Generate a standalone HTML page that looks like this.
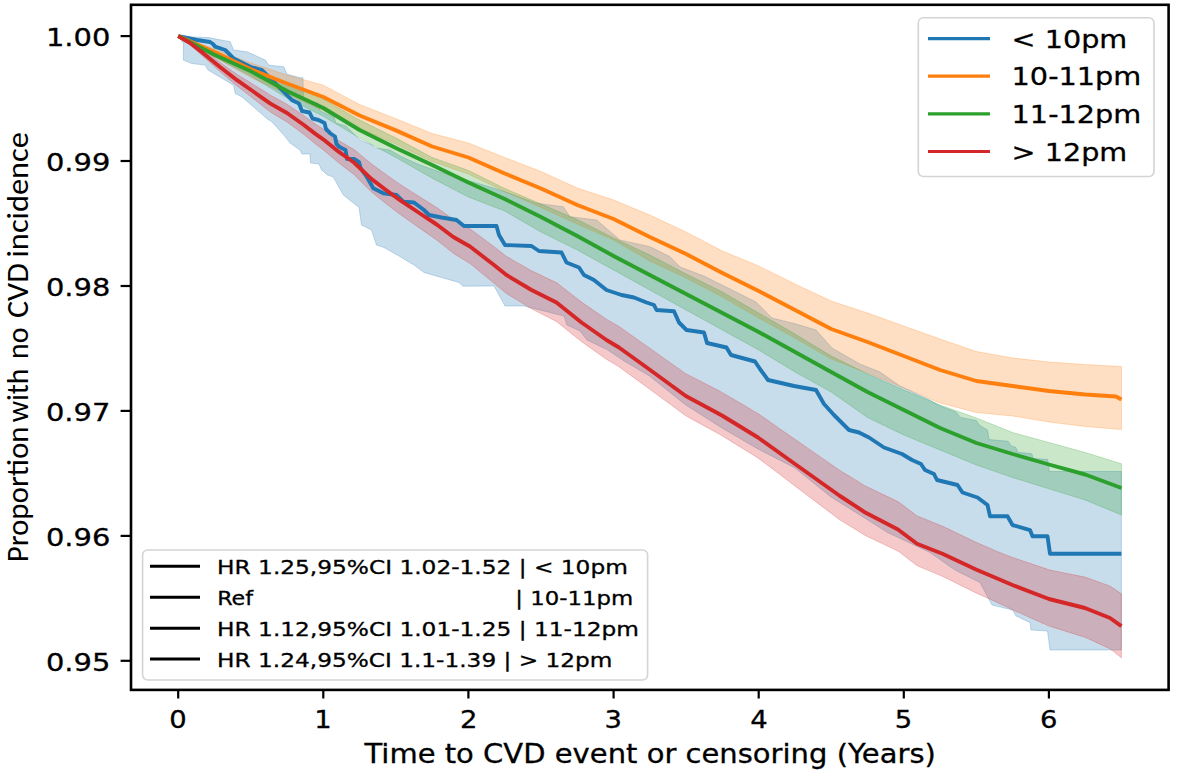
<!DOCTYPE html><html><head><meta charset="utf-8"><style>html,body{margin:0;padding:0;background:#fff;overflow:hidden}svg{display:block}text{font-family:"DejaVu Sans","Liberation Sans",sans-serif;stroke:#000;stroke-width:0.3px;paint-order:stroke}</style></head><body>
<svg width="1200" height="777" viewBox="0 0 1200 777">
<rect width="1200" height="777" fill="#fff"/>
<polygon points="178.2,36.1 181.7,36.7 208.5,37.5 230.2,41.7 233.6,50.0 247.0,51.8 265.4,60.1 268.7,65.1 283.8,66.8 287.1,74.3 300.5,77.7 303.0,77.7 303.5,99.0 318.0,103.0 320.0,111.0 334.0,117.0 336.0,123.0 346.0,126.0 360.0,140.0 372.0,145.0 375.0,148.0 390.0,150.0 400.0,156.0 420.0,165.0 440.0,172.0 470.0,181.0 500.0,190.0 536.7,203.3 563.3,206.7 570.0,216.7 596.7,220.0 620.0,240.0 650.0,246.7 670.0,256.7 680.0,267.0 704.0,276.0 728.0,288.0 756.0,302.0 772.0,318.0 796.0,324.0 816.0,330.0 832.0,348.0 860.0,364.0 880.0,372.0 900.0,386.0 930.0,400.0 940.0,406.0 955.8,412.0 960.6,417.4 976.4,420.6 979.6,425.3 987.5,430.1 989.1,439.6 1008.1,441.2 1011.2,445.9 1016.0,447.5 1017.6,452.2 1031.8,453.8 1033.4,458.6 1047.7,459.4 1049.2,471.5 1121.4,471.5 1121.4,650.0 1050.0,650.0 1047.5,631.0 1031.0,630.0 1030.0,622.5 1016.0,616.0 1012.5,610.0 992.0,605.0 980.0,582.5 955.0,570.0 930.0,552.5 887.5,532.5 860.0,515.0 831.0,497.0 795.0,468.0 758.0,449.0 722.0,428.0 685.8,405.0 649.5,376.0 623.0,360.3 607.0,349.6 587.0,340.0 580.0,331.0 567.0,325.0 564.0,316.0 544.0,311.0 524.0,306.0 505.0,306.0 499.0,295.0 494.0,286.0 462.8,286.2 459.0,282.5 441.5,277.5 424.0,272.5 414.0,265.0 399.0,256.0 384.0,247.5 376.5,245.0 371.5,230.0 361.5,225.0 359.0,207.5 343.3,195.0 333.3,177.0 327.5,175.0 321.6,170.0 319.0,164.0 310.5,163.0 310.0,154.0 302.0,154.0 300.0,150.0 290.0,143.0 285.5,137.1 272.1,122.0 267.0,118.7 242.0,96.9 235.3,93.6 233.6,85.2 208.0,70.0 205.1,65.1 191.7,63.5 183.4,60.1 183.4,43.4 178.2,36.1" fill="#1f77b4" fill-opacity="0.25" stroke="#1f77b4" stroke-opacity="0.25" stroke-width="1.0" stroke-linejoin="round"/>
<polygon points="178.2,36.1 214.5,49.0 250.8,63.0 287.0,75.0 323.3,85.2 359.6,104.5 395.9,118.7 432.2,133.5 468.4,143.0 504.7,157.5 541.0,171.5 577.3,188.0 613.6,200.0 649.8,215.0 686.1,232.0 722.4,251.0 758.7,266.0 795.0,284.0 831.2,301.0 867.5,313.0 903.8,326.0 940.1,339.0 976.4,351.5 1012.6,358.0 1048.9,362.0 1085.2,364.5 1121.5,366.5 1121.5,429.5 1085.2,426.5 1048.9,422.0 1012.6,416.0 976.4,412.5 940.1,403.0 903.8,388.0 867.5,373.0 831.2,359.0 795.0,338.0 758.7,318.0 722.4,297.0 686.1,278.0 649.8,261.0 613.6,240.0 577.3,224.0 541.0,207.5 504.7,191.5 468.4,174.0 432.2,161.5 395.9,144.1 359.6,128.5 323.3,110.8 287.0,94.0 250.8,77.6 214.5,57.0 178.2,36.1" fill="#ff7f0e" fill-opacity="0.25" stroke="#ff7f0e" stroke-opacity="0.25" stroke-width="1.0" stroke-linejoin="round"/>
<polygon points="178.2,36.1 214.5,52.0 250.8,67.0 287.0,84.0 323.3,99.4 359.6,120.0 395.9,138.0 432.2,157.5 468.4,170.4 504.7,188.5 541.0,204.0 577.3,219.5 613.6,238.0 649.8,255.0 686.1,274.0 722.4,292.0 758.7,313.0 795.0,334.0 831.2,356.0 867.5,374.0 903.8,390.0 940.1,405.0 976.4,418.0 1012.6,432.5 1048.9,442.5 1085.2,452.5 1121.5,463.8 1121.5,515.0 1085.2,500.0 1048.9,488.8 1012.6,477.5 976.4,465.0 940.1,450.0 903.8,435.0 867.5,417.5 831.2,392.0 795.0,372.0 758.7,350.0 722.4,330.0 686.1,310.0 649.8,290.0 613.6,270.0 577.3,250.0 541.0,232.0 504.7,211.0 468.4,197.0 432.2,178.2 395.9,157.5 359.6,138.1 323.3,116.2 287.0,98.0 250.8,76.0 214.5,57.0 178.2,36.1" fill="#2ca02c" fill-opacity="0.25" stroke="#2ca02c" stroke-opacity="0.25" stroke-width="1.0" stroke-linejoin="round"/>
<polygon points="178.2,36.1 180.0,36.9 190.0,41.4 192.0,42.7 203.5,50.0 204.0,50.4 216.0,59.4 220.0,62.4 228.0,68.1 237.0,74.4 240.0,76.2 252.0,83.6 254.0,84.9 264.0,91.1 270.4,95.2 276.0,98.2 287.0,104.2 288.0,104.9 300.0,113.1 303.9,115.8 312.0,121.6 315.4,124.1 323.2,129.1 324.0,129.7 336.0,138.7 338.6,140.5 348.0,146.0 354.0,149.4 360.0,154.4 371.0,163.6 372.0,164.3 384.0,173.0 386.3,174.7 396.0,181.5 400.0,184.3 408.0,189.4 420.0,197.0 432.0,204.6 436.7,207.5 444.0,212.8 453.3,219.6 456.0,221.1 468.0,227.7 470.0,228.8 480.0,236.2 492.0,245.2 494.0,246.7 504.0,254.5 506.5,256.4 516.0,261.9 528.0,268.7 531.5,270.8 540.0,274.8 552.0,280.5 556.5,282.6 564.0,288.4 576.0,297.8 581.5,302.1 588.0,306.6 600.0,314.8 606.5,319.2 612.0,322.4 619.0,326.5 624.0,330.0 636.0,338.5 648.0,347.0 649.5,348.0 660.0,355.4 672.0,363.9 684.0,372.4 685.8,373.7 696.0,378.9 708.0,385.1 720.0,391.3 722.0,392.4 732.0,398.2 744.0,405.3 756.0,412.4 758.0,413.5 768.0,420.5 780.0,428.9 792.0,437.3 795.0,439.3 804.0,445.6 816.0,453.9 828.0,462.2 840.0,470.5 852.0,477.8 864.0,485.2 865.7,486.2 876.0,491.1 888.0,496.8 898.0,501.6 900.0,503.0 912.0,512.1 917.0,515.9 924.0,518.7 936.0,523.6 943.0,526.4 948.0,528.8 960.0,534.6 972.0,540.3 976.0,542.3 984.0,545.7 996.0,551.0 1008.0,555.7 1012.5,557.4 1020.0,560.0 1032.0,564.0 1044.0,568.1 1049.0,569.8 1056.0,571.2 1068.0,573.7 1080.0,576.1 1085.0,577.1 1092.0,579.6 1104.0,583.9 1110.0,586.0 1116.0,590.1 1121.4,593.8 1121.4,657.8 1116.0,653.5 1110.0,648.8 1104.0,646.0 1092.0,640.5 1085.0,637.3 1080.0,635.7 1068.0,632.0 1056.0,628.2 1049.0,626.0 1044.0,623.8 1032.0,618.5 1020.0,613.1 1012.5,609.8 1008.0,607.6 996.0,601.9 984.0,596.5 976.0,592.9 972.0,590.9 960.0,585.0 948.0,579.0 943.0,576.6 936.0,573.6 924.0,568.6 917.0,565.6 912.0,561.8 900.0,552.5 898.0,551.1 888.0,546.3 876.0,540.6 865.7,535.7 864.0,534.7 852.0,527.3 840.0,520.0 828.0,510.9 816.0,501.9 804.0,492.8 795.0,486.0 792.0,483.8 780.0,474.6 768.0,465.5 758.0,458.0 756.0,456.7 744.0,449.3 732.0,441.9 722.0,435.7 720.0,434.6 708.0,428.0 696.0,421.4 685.8,415.8 684.0,414.5 672.0,405.6 660.0,396.8 649.5,389.0 648.0,387.9 636.0,379.2 624.0,370.5 619.0,366.8 612.0,362.6 606.5,359.3 600.0,354.7 588.0,346.2 581.5,341.6 576.0,337.2 564.0,327.5 556.5,321.5 552.0,319.2 540.0,313.1 531.5,308.8 528.0,306.6 516.0,299.3 506.5,293.5 504.0,291.5 494.0,283.1 492.0,281.5 480.0,271.7 470.0,263.5 468.0,262.3 456.0,254.9 453.3,253.2 444.0,245.8 436.7,240.0 432.0,236.7 420.0,228.4 408.0,219.9 400.0,214.3 396.0,211.3 386.3,203.8 384.0,202.0 372.0,192.4 371.0,191.6 360.0,180.6 354.0,174.5 348.0,170.0 338.6,162.8 336.0,160.6 324.0,150.4 323.2,149.7 315.4,143.9 312.0,141.1 303.9,134.5 300.0,131.6 288.0,122.7 287.0,122.0 276.0,115.4 270.4,112.0 264.0,107.0 254.0,99.1 252.0,97.6 240.0,88.3 237.0,86.0 228.0,78.4 220.0,71.6 216.0,68.0 204.0,57.2 203.5,56.8 192.0,46.4 190.0,44.6 180.0,37.4 178.2,36.1" fill="#d62728" fill-opacity="0.25" stroke="#d62728" stroke-opacity="0.25" stroke-width="1.0" stroke-linejoin="round"/>
<polyline points="178.2,36.1 185.0,37.5 197.0,40.0 210.0,42.0 213.0,44.0 215.2,46.7 225.2,50.0 233.6,58.4 250.3,66.8 262.0,70.2 275.4,83.5 283.8,91.9 292.2,100.3 299.0,103.5 302.0,111.0 309.5,112.5 312.5,118.5 318.5,120.0 324.5,123.0 326.0,129.0 330.5,133.5 335.0,136.5 336.5,144.0 339.5,147.0 345.5,150.0 347.0,159.0 354.5,159.0 359.0,162.0 360.5,168.0 366.7,176.7 373.3,188.3 383.3,193.3 396.7,195.0 403.3,201.7 414.0,202.5 424.0,210.0 429.0,215.0 441.5,217.5 456.5,220.0 464.0,226.0 496.5,226.0 499.0,235.0 505.0,245.0 531.5,246.0 539.0,251.0 561.5,252.5 566.5,262.5 579.0,267.5 584.0,275.0 594.0,280.0 606.5,290.0 621.5,295.0 634.0,297.5 646.5,302.5 654.0,305.0 656.5,310.0 674.0,311.2 679.0,322.5 686.5,330.0 704.0,332.5 707.0,343.0 726.5,347.5 731.0,355.0 755.0,361.5 760.0,369.0 768.0,380.0 794.0,386.0 816.0,390.0 824.0,404.0 834.0,415.0 849.0,430.0 859.0,432.5 869.0,437.5 884.0,447.5 902.0,454.0 912.0,460.0 921.0,464.0 925.0,470.0 934.0,474.0 937.0,480.0 957.5,485.0 962.5,492.5 977.5,497.5 987.5,505.0 990.0,516.2 1007.5,516.2 1012.5,525.0 1030.0,530.0 1032.5,536.2 1047.5,536.2 1050.0,553.8 1121.4,553.8" fill="none" stroke="#1f77b4" stroke-width="3.9" stroke-linejoin="round" stroke-linecap="butt"/>
<polyline points="178.2,36.1 214.5,52.0 250.8,69.3 287.0,83.5 323.3,97.0 359.6,115.5 395.9,130.4 432.2,146.5 468.4,157.5 504.7,173.5 541.0,188.5 577.3,205.0 613.6,219.0 649.8,237.0 686.1,254.0 722.4,273.0 758.7,291.0 795.0,310.0 831.2,329.0 867.5,342.0 903.8,356.0 940.1,370.0 976.4,381.0 1012.6,386.0 1048.9,391.0 1085.2,394.5 1116.0,396.5 1121.4,399.5" fill="none" stroke="#ff7f0e" stroke-width="3.9" stroke-linejoin="round" stroke-linecap="butt"/>
<polyline points="178.2,36.1 214.5,54.7 250.8,71.3 287.0,91.0 323.3,108.0 359.6,130.0 395.9,148.0 432.2,165.0 468.4,182.5 504.7,199.0 541.0,217.0 577.3,236.0 613.6,256.0 649.8,275.0 686.1,294.0 722.4,313.0 758.7,332.0 795.0,352.0 831.2,372.0 867.5,392.0 903.8,410.0 940.1,428.0 976.4,443.0 1012.6,454.0 1048.9,464.5 1085.2,474.5 1121.5,488.0" fill="none" stroke="#2ca02c" stroke-width="3.9" stroke-linejoin="round" stroke-linecap="butt"/>
<polyline points="178.2,36.1 190.0,43.0 203.5,53.4 220.0,67.0 237.0,80.2 254.0,92.0 270.4,103.6 287.0,113.0 303.9,125.0 315.4,133.9 323.2,139.3 338.6,151.7 354.0,162.5 371.0,178.6 386.3,190.2 400.0,200.2 420.0,213.5 436.7,224.5 453.3,237.0 470.0,246.5 494.0,265.0 506.5,275.0 531.5,290.0 556.5,302.5 581.5,322.5 606.5,340.0 619.0,347.5 649.5,369.5 685.8,396.0 722.0,415.5 758.0,437.5 795.0,464.0 840.0,496.0 865.7,512.8 898.0,529.5 917.0,543.7 943.0,554.0 976.0,569.5 1012.5,585.0 1049.0,599.0 1085.0,608.0 1110.0,618.0 1121.4,626.2" fill="none" stroke="#d62728" stroke-width="3.9" stroke-linejoin="round" stroke-linecap="butt"/>
<rect x="131.0" y="4.8" width="1037.6" height="685.1" fill="none" stroke="#000" stroke-width="2.6"/>
<line x1="120.6" y1="36.1" x2="131.0" y2="36.1" stroke="#000" stroke-width="2.2"/>
<line x1="120.6" y1="161.0" x2="131.0" y2="161.0" stroke="#000" stroke-width="2.2"/>
<line x1="120.6" y1="286.0" x2="131.0" y2="286.0" stroke="#000" stroke-width="2.2"/>
<line x1="120.6" y1="410.9" x2="131.0" y2="410.9" stroke="#000" stroke-width="2.2"/>
<line x1="120.6" y1="535.9" x2="131.0" y2="535.9" stroke="#000" stroke-width="2.2"/>
<line x1="120.6" y1="660.8" x2="131.0" y2="660.8" stroke="#000" stroke-width="2.2"/>
<line x1="178.2" y1="689.9" x2="178.2" y2="698.5" stroke="#000" stroke-width="2.2"/>
<line x1="323.3" y1="689.9" x2="323.3" y2="698.5" stroke="#000" stroke-width="2.2"/>
<line x1="468.4" y1="689.9" x2="468.4" y2="698.5" stroke="#000" stroke-width="2.2"/>
<line x1="613.6" y1="689.9" x2="613.6" y2="698.5" stroke="#000" stroke-width="2.2"/>
<line x1="758.7" y1="689.9" x2="758.7" y2="698.5" stroke="#000" stroke-width="2.2"/>
<line x1="903.8" y1="689.9" x2="903.8" y2="698.5" stroke="#000" stroke-width="2.2"/>
<line x1="1048.9" y1="689.9" x2="1048.9" y2="698.5" stroke="#000" stroke-width="2.2"/>
<rect x="918.3" y="17.8" width="235.7" height="158.7" rx="5" fill="#fff" fill-opacity="0.8" stroke="#d4d4d4" stroke-width="1.6"/>
<line x1="928" y1="38.6" x2="990" y2="38.6" stroke="#1f77b4" stroke-width="3.2"/>
<line x1="928" y1="76.2" x2="990" y2="76.2" stroke="#ff7f0e" stroke-width="3.2"/>
<line x1="928" y1="113.9" x2="990" y2="113.9" stroke="#2ca02c" stroke-width="3.2"/>
<line x1="928" y1="151.5" x2="990" y2="151.5" stroke="#d62728" stroke-width="3.2"/>
<rect x="142.6" y="550" width="505" height="130" rx="5" fill="#fff" fill-opacity="0.8" stroke="#d4d4d4" stroke-width="1.6"/>
<line x1="150" y1="566.3" x2="200" y2="566.3" stroke="#000" stroke-width="3.0"/>
<line x1="150" y1="597.2" x2="200" y2="597.2" stroke="#000" stroke-width="3.0"/>
<line x1="150" y1="628.2" x2="200" y2="628.2" stroke="#000" stroke-width="3.0"/>
<line x1="150" y1="659.1" x2="200" y2="659.1" stroke="#000" stroke-width="3.0"/>
<text transform="translate(45.96,46.30) scale(1.1800,1)" font-size="24.5" fill="#000">1.00</text>
<text transform="translate(45.94,171.24) scale(1.1804,1)" font-size="24.5" fill="#000">0.99</text>
<text transform="translate(45.94,296.18) scale(1.1804,1)" font-size="24.5" fill="#000">0.98</text>
<text transform="translate(45.94,421.12) scale(1.1804,1)" font-size="24.5" fill="#000">0.97</text>
<text transform="translate(45.94,546.06) scale(1.1804,1)" font-size="24.5" fill="#000">0.96</text>
<text transform="translate(45.94,671.00) scale(1.1804,1)" font-size="24.5" fill="#000">0.95</text>
<text transform="translate(169.24,727.60) scale(1.1200,1)" font-size="24.5" fill="#000">0</text>
<text transform="translate(314.36,727.60) scale(1.1200,1)" font-size="24.5" fill="#000">1</text>
<text transform="translate(460.04,727.60) scale(1.1200,1)" font-size="24.5" fill="#000">2</text>
<text transform="translate(604.60,727.60) scale(1.1200,1)" font-size="24.5" fill="#000">3</text>
<text transform="translate(750.28,727.60) scale(1.1200,1)" font-size="24.5" fill="#000">4</text>
<text transform="translate(894.84,727.60) scale(1.1200,1)" font-size="24.5" fill="#000">5</text>
<text transform="translate(1039.96,727.60) scale(1.1200,1)" font-size="24.5" fill="#000">6</text>
<text transform="translate(364.50,763.00) scale(1.0996,1)" font-size="26.4" fill="#000">Time to CVD event or censoring (Years)</text>
<text transform="translate(1011.59,47.80) scale(1.1371,1)" font-size="25.2" fill="#000">&lt; 10pm</text>
<text transform="translate(1011.58,85.45) scale(1.1404,1)" font-size="25.2" fill="#000">10-11pm</text>
<text transform="translate(1011.58,123.10) scale(1.1404,1)" font-size="25.2" fill="#000">11-12pm</text>
<text transform="translate(1011.59,160.75) scale(1.1371,1)" font-size="25.2" fill="#000">&gt; 12pm</text>
<text transform="translate(217.09,574.20) scale(1.2053,1)" font-size="19.3" fill="#000">HR 1.25,95%CI 1.02-1.52 | &lt; 10pm</text>
<text transform="translate(217.20,605.15) scale(1.1500,1)" font-size="19.3" fill="#000">Ref</text>
<text transform="translate(515.24,605.15) scale(1.1823,1)" font-size="19.3" fill="#000">| 10-11pm</text>
<text transform="translate(217.09,636.10) scale(1.2055,1)" font-size="19.3" fill="#000">HR 1.12,95%CI 1.01-1.25 | 11-12pm</text>
<text transform="translate(217.09,667.05) scale(1.2034,1)" font-size="19.3" fill="#000">HR 1.24,95%CI 1.1-1.39 | &gt; 12pm</text>
<text transform="translate(27.6,562.26) rotate(-90) scale(0.9821,1)" font-size="31.5" fill="#000" textLength="138.22" lengthAdjust="spacingAndGlyphs" style="font-family:Carlito,'Liberation Sans',sans-serif;stroke:none">Proportion</text>
<text transform="translate(27.6,422.35) rotate(-90) scale(0.9481,1)" font-size="31.5" fill="#000" textLength="56.86" lengthAdjust="spacingAndGlyphs" style="font-family:Carlito,'Liberation Sans',sans-serif;stroke:none">with</text>
<text transform="translate(27.6,358.99) rotate(-90) scale(0.9467,1)" font-size="31.5" fill="#000" textLength="33.17" lengthAdjust="spacingAndGlyphs" style="font-family:Carlito,'Liberation Sans',sans-serif;stroke:none">no</text>
<text transform="translate(27.6,318.02) rotate(-90) scale(1.0154,1)" font-size="31.5" fill="#000" textLength="54.06" lengthAdjust="spacingAndGlyphs" style="font-family:Carlito,'Liberation Sans',sans-serif;stroke:none">CVD</text>
<text transform="translate(27.6,257.56) rotate(-90) scale(1.0277,1)" font-size="31.5" fill="#000" textLength="122.09" lengthAdjust="spacingAndGlyphs" style="font-family:Carlito,'Liberation Sans',sans-serif;stroke:none">incidence</text>
</svg></body></html>
